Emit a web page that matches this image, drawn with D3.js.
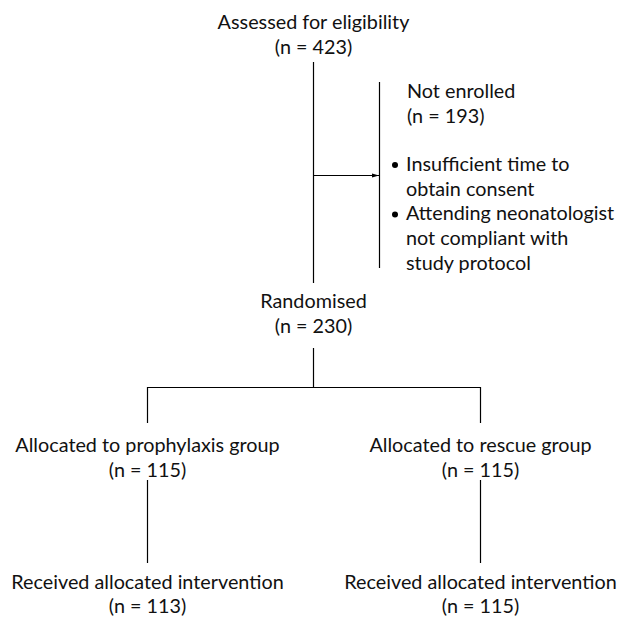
<!DOCTYPE html>
<html>
<head>
<meta charset="utf-8">
<script src="https://cdn.jsdelivr.net/npm/d3@7"></script>
<style>
  html, body { margin: 0; padding: 0; background: #fff; }
  svg text { font-family: "Lato", "DejaVu Sans", sans-serif; fill: #111; }
</style>
</head>
<body>
<svg id="chart" width="619" height="618"></svg>
<script>
// ---- data ----
const assessed = ["Assessed for eligibility", "(n = 423)"];
const notEnrolled = ["Not enrolled", "(n = 193)"];
const reasons = [["Insufficient time to", "obtain consent"],
                 ["Attending neonatologist", "not compliant with", "study protocol"]];
const randomised = ["Randomised", "(n = 230)"];
const groups = ["prophylaxis", "rescue"];
const allocated = [["Allocated to prophylaxis group", "(n = 115)"],
                   ["Allocated to rescue group", "(n = 115)"]];
const received = [["Received allocated intervention", "(n = 113)"],
                  ["Received allocated intervention", "(n = 115)"]];

const svg = d3.select("#chart");
const FS = 19.8;
const LH = 24.7;

// scales for layout
const xGroup = d3.scalePoint().domain(groups).range([147.5, 480.5]);
const xMain = 313.5;
const y = d3.scaleLinear().domain([0, 1]).range([0, 1]);

svg.append("defs").append("marker")
  .attr("id", "arrow").attr("viewBox", "0 0 10 10")
  .attr("refX", 10).attr("refY", 5)
  .attr("markerWidth", 9).attr("markerHeight", 7)
  .attr("markerUnits", "userSpaceOnUse")
  .attr("orient", "auto")
  .append("path").attr("d", "M0,2 L10,5 L0,8 Z").attr("fill", "#000");

function block(lines, x, yBase, anchor, lh) {
  const t = svg.append("text").attr("font-size", FS).attr("text-anchor", anchor || "middle");
  lines.forEach((s, i) => {
    t.append("tspan").attr("x", x).attr("y", y(yBase + i * (lh || LH))).text(s);
  });
  return t;
}

const line = (x1, y1, x2, y2) => svg.append("line")
  .attr("x1", x1).attr("y1", y(y1)).attr("x2", x2).attr("y2", y(y2))
  .attr("stroke", "#000").attr("stroke-width", 1.2);

// top
block(assessed, xMain, 29);
line(xMain, 62, xMain, 283);
// arrow to exclusion
line(xMain, 175.5, 379, 175.5).attr("marker-end", "url(#arrow)");
line(379.5, 82, 379.5, 268);
block(notEnrolled, 407, 98, "start");
let yy = 171;
reasons.forEach(r => {
  svg.append("circle").attr("cx", 395).attr("cy", y(yy - 6)).attr("r", 3).attr("fill", "#000");
  block(r, 406, yy, "start");
  yy += r.length * LH;
});

// randomised
block(randomised, xMain, 308);
line(xMain, 348, xMain, 387);
line(xGroup("prophylaxis"), 387.5, xGroup("rescue"), 387.5);
groups.forEach((g, i) => {
  line(xGroup(g), 387, xGroup(g), 423);
  block(allocated[i], xGroup(g), 452);
  line(xGroup(g), 480, xGroup(g), 563);
  block(received[i], xGroup(g), 589, "middle", 23.5);
});
</script>
</body>
</html>
